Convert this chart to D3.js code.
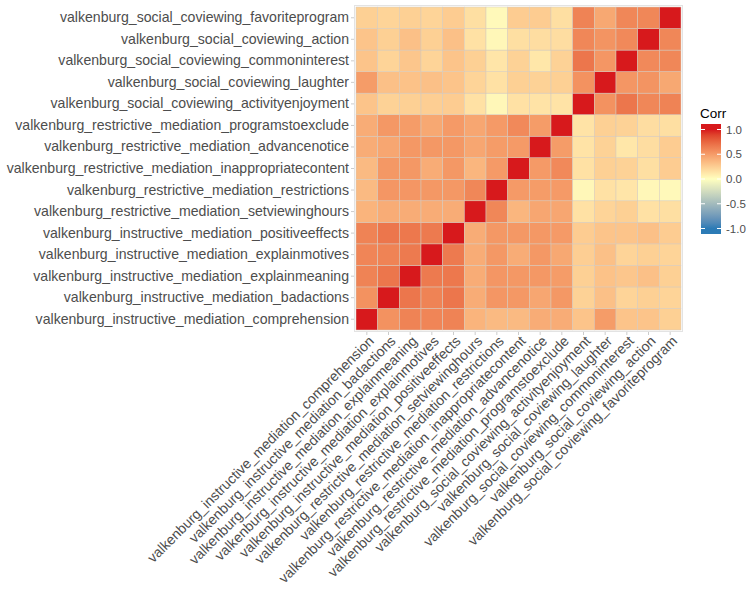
<!DOCTYPE html>
<html><head><meta charset="utf-8">
<script src="https://cdn.jsdelivr.net/npm/d3@7"></script>
<style>body{margin:0;background:#fff}svg{display:block}</style>
</head><body>
<svg id="chart" width="750" height="593"></svg>
<script>
const variables = [
  "valkenburg_instructive_mediation_comprehension",
  "valkenburg_instructive_mediation_badactions",
  "valkenburg_instructive_mediation_explainmeaning",
  "valkenburg_instructive_mediation_explainmotives",
  "valkenburg_instructive_mediation_positiveeffects",
  "valkenburg_restrictive_mediation_setviewinghours",
  "valkenburg_restrictive_mediation_restrictions",
  "valkenburg_restrictive_mediation_inappropriatecontent",
  "valkenburg_restrictive_mediation_advancenotice",
  "valkenburg_restrictive_mediation_programstoexclude",
  "valkenburg_social_coviewing_activityenjoyment",
  "valkenburg_social_coviewing_laughter",
  "valkenburg_social_coviewing_commoninterest",
  "valkenburg_social_coviewing_action",
  "valkenburg_social_coviewing_favoriteprogram"
];
// lower triangle of the correlation matrix (row i: correlations with variables 0..i-1)
const lowerTriangle = [
  [],
  [0.55],
  [0.62, 0.68],
  [0.61, 0.62, 0.66],
  [0.62, 0.68, 0.67, 0.66],
  [0.38, 0.42, 0.42, 0.42, 0.42],
  [0.35, 0.53, 0.53, 0.52, 0.52, 0.60],
  [0.35, 0.52, 0.52, 0.42, 0.52, 0.37, 0.51],
  [0.42, 0.45, 0.52, 0.52, 0.52, 0.45, 0.50, 0.51],
  [0.42, 0.52, 0.50, 0.44, 0.51, 0.45, 0.51, 0.59, 0.50],
  [0.30, 0.23, 0.24, 0.25, 0.26, 0.15, 0.04, 0.15, 0.14, 0.14],
  [0.50, 0.32, 0.31, 0.32, 0.30, 0.22, 0.15, 0.24, 0.23, 0.24, 0.55],
  [0.30, 0.22, 0.29, 0.22, 0.30, 0.24, 0.13, 0.23, 0.12, 0.23, 0.68, 0.53],
  [0.30, 0.24, 0.32, 0.24, 0.32, 0.15, 0.04, 0.16, 0.17, 0.17, 0.60, 0.54, 0.59],
  [0.24, 0.22, 0.24, 0.22, 0.26, 0.16, 0.03, 0.26, 0.26, 0.16, 0.62, 0.44, 0.60, 0.60]
];
const legendBreaks = [1.0, 0.5, 0.0, -0.5, -1.0];
const legendLabels = ["1.0", "0.5", "0.0", "-0.5", "-1.0"];

(function () {
const n = variables.length;
const cells = [];
for (let i = 0; i < n; i++) for (let j = 0; j < n; j++) {
  const v = i === j ? 1 : (i > j ? lowerTriangle[i][j] : lowerTriangle[j][i]);
  cells.push({row: variables[i], col: variables[j], value: v});
}

const svg = d3.select("#chart");
const pL = 356, pR = 681, pT = 7, pB = 330;
const x = d3.scaleBand().domain(variables).range([pL, pR]);
const y = d3.scaleBand().domain(variables).range([pB, pT]);
const color = d3.scaleLinear().domain([-1, 0, 1])
  .range(["#2C7BB6", "#FFFFBF", "#D7191C"]).interpolate(d3.interpolateLab);

const font = "Liberation Sans, Arial, sans-serif";
const txt = "#4D4D4D";
const fs = "14.1px";

svg.append("rect").attr("x", pL - 1.5).attr("y", pT - 1.5)
  .attr("width", pR - pL + 3).attr("height", pB - pT + 3)
  .attr("fill", "none").attr("stroke", "#E3E3E3").attr("stroke-width", 1);

svg.append("g").selectAll("rect").data(cells).join("rect")
  .attr("x", d => x(d.col)).attr("y", d => y(d.row))
  .attr("width", x.bandwidth()).attr("height", y.bandwidth())
  .attr("fill", d => color(d.value))
  .attr("stroke", "#D4C9BE").attr("stroke-width", 0.5);

const yAxis = d3.axisLeft(y).tickSize(3).tickPadding(2);
const gy = svg.append("g").attr("transform", `translate(${pL - 2},0)`).call(yAxis);
gy.select(".domain").remove();
gy.selectAll(".tick line").attr("stroke", "#CCCCCC");
gy.selectAll(".tick text").attr("fill", txt).style("font-family", font).style("font-size", fs);

const xAxis = d3.axisBottom(x).tickSize(3).tickPadding(3);
const gx = svg.append("g").attr("transform", `translate(0,${pB + 2})`).call(xAxis);
gx.select(".domain").remove();
gx.selectAll(".tick line").attr("stroke", "#CCCCCC");
gx.selectAll(".tick text").attr("fill", txt).style("font-family", font).style("font-size", fs)
  .attr("text-anchor", "end").attr("dy", null).attr("y", 0)
  .attr("transform", "translate(8,10) rotate(-45)");

const lg = svg.append("g");
lg.append("text").attr("x", 700).attr("y", 118).text("Corr")
  .attr("fill", "#000").style("font-family", font).style("font-size", "13.5px");
const barTop = 124, barBot = 234, barX = 701, barW = 20;
const ly = d3.scaleLinear().domain([-1, 1]).range([barBot - 5.5, barTop + 5.5]);
const grad = svg.append("defs").append("linearGradient").attr("id", "cg")
  .attr("x1", 0).attr("y1", 1).attr("x2", 0).attr("y2", 0);
d3.range(0, 1.0001, 0.05).forEach(t => {
  const v = ly.invert(barBot - t * (barBot - barTop));
  grad.append("stop").attr("offset", t).attr("stop-color", color(Math.max(-1, Math.min(1, v))));
});
lg.append("rect").attr("x", barX).attr("y", barTop).attr("width", barW).attr("height", barBot - barTop)
  .attr("fill", "url(#cg)");
legendBreaks.forEach((b, k) => {
  const yy = ly(b);
  lg.append("line").attr("x1", barX).attr("x2", barX + 4).attr("y1", yy).attr("y2", yy).attr("stroke", "#fff");
  lg.append("line").attr("x1", barX + barW - 4).attr("x2", barX + barW).attr("y1", yy).attr("y2", yy).attr("stroke", "#fff");
  lg.append("text").attr("x", barX + barW + 5).attr("y", yy).attr("dy", "0.35em").text(legendLabels[k])
    .attr("fill", txt).style("font-family", font).style("font-size", "11.5px");
});
})();
</script>
</body></html>
